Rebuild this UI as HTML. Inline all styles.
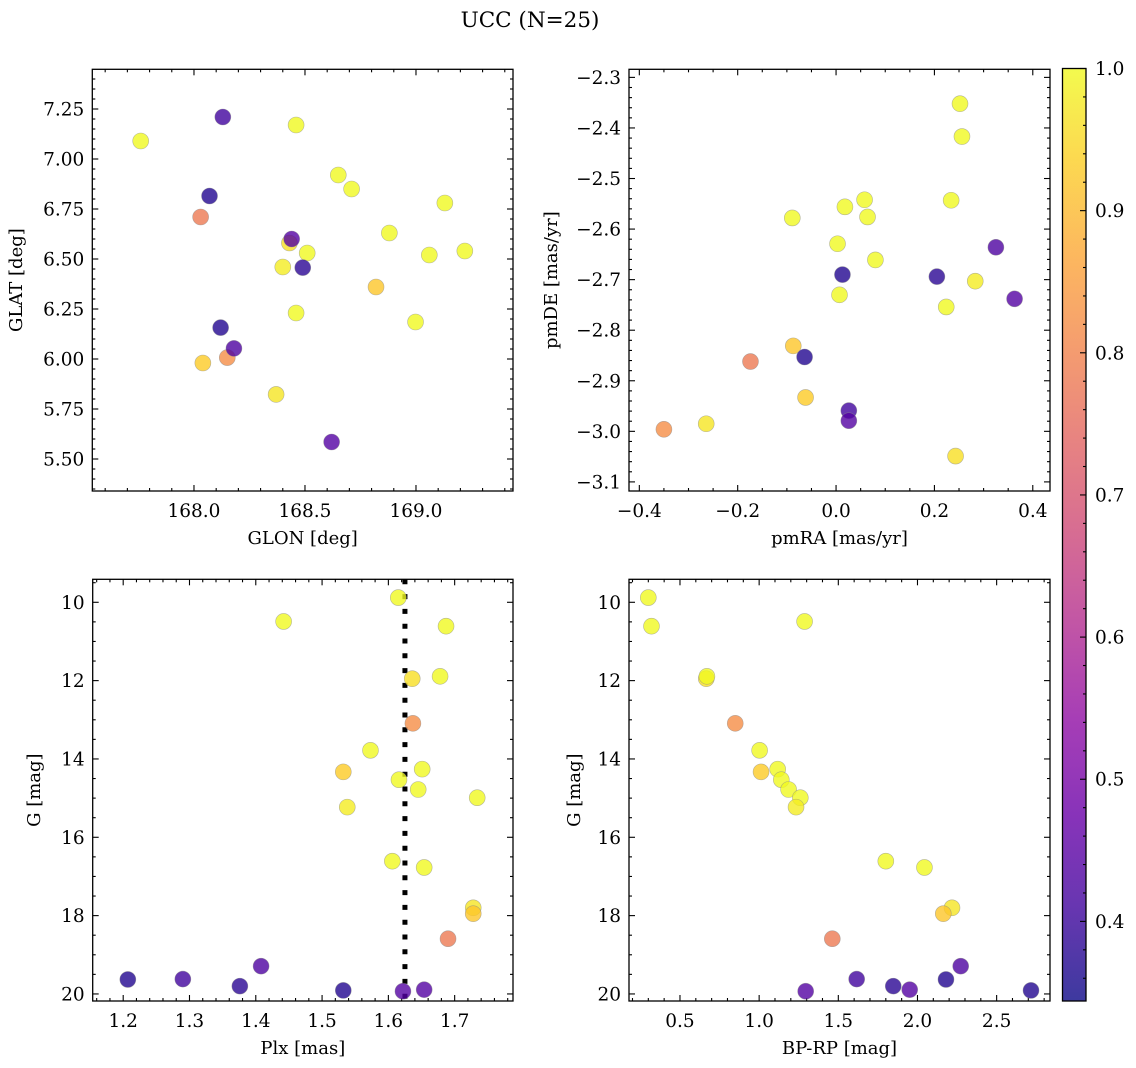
<!DOCTYPE html>
<html><head><meta charset="utf-8">
<style>
html,body{margin:0;padding:0;background:#fff;}
svg{display:block;font-family:"DejaVu Serif","Liberation Serif",serif;}
</style></head>
<body>
<svg id="fig" width="1136" height="1068" viewBox="0 0 1136 1068" xmlns="http://www.w3.org/2000/svg">
<text x="530" y="27" font-size="21.5" text-anchor="middle">UCC (N=25)</text>
</svg>
<script>
// ---- data (one entry per star) ----
const plx  = [1.615,1.442,1.687,1.636,1.678,1.637,1.573,1.532,1.651,1.616,1.645,1.734,1.538,1.606,1.654,1.728,1.728,1.690,1.207,1.290,1.376,1.408,1.532,1.622,1.654];
const gmag = [9.88,10.49,10.61,11.95,11.89,13.09,13.78,14.33,14.26,14.53,14.78,14.99,15.23,16.61,16.77,17.80,17.95,18.59,19.63,19.62,19.80,19.29,19.91,19.93,19.89];
const bprp = [0.30,1.287,0.32,0.666,0.67,0.849,1.003,1.012,1.117,1.140,1.186,1.26,1.233,1.80,2.044,2.218,2.163,1.462,2.18,1.616,1.847,2.273,2.717,1.294,1.951];
const prob = [1.0,1.0,1.0,0.96,1.0,0.82,1.0,0.93,1.0,1.0,1.0,1.0,0.98,1.0,1.0,0.97,0.92,0.78,0.37,0.41,0.38,0.43,0.37,0.44,0.44];
const glon = [167.76,168.46,168.65,168.43,168.71,168.15,169.13,168.04,168.51,168.88,169.06,169.22,168.40,168.46,168.998,168.37,168.82,168.03,168.07,168.13,168.49,168.18,168.12,168.44,168.62];
const glat = [7.09,7.17,6.92,6.58,6.85,6.007,6.78,5.98,6.53,6.63,6.52,6.54,6.46,6.23,6.185,5.823,6.36,6.71,6.815,7.21,6.457,6.053,6.157,6.60,5.585];
const pmra = [0.252,0.256,0.058,0.243,0.018,-0.350,-0.089,-0.062,0.064,0.234,0.003,0.080,0.283,0.007,0.224,-0.264,-0.087,-0.174,0.013,0.026,0.205,0.325,-0.064,0.363,0.026];
const pmde = [-2.352,-2.417,-2.542,-3.049,-2.556,-2.996,-2.578,-2.933,-2.576,-2.543,-2.629,-2.661,-2.703,-2.730,-2.754,-2.985,-2.831,-2.862,-2.690,-2.959,-2.694,-2.636,-2.853,-2.738,-2.979];
const plxMean = [1.625];
const cbTicks = [0.4,0.5,0.6,0.7,0.8,0.9,1.0];
const vmin = 0.344, vmax = 1.0;

const NS = "http://www.w3.org/2000/svg";
const svg = document.getElementById('fig');
function el(tag, attrs, parent){ const e=document.createElementNS(NS,tag); for(const k in attrs) e.setAttribute(k,attrs[k]); (parent||svg).appendChild(e); return e; }

const stops = [[0,[13,8,135]],[0.1,[65,4,157]],[0.2,[106,0,168]],[0.3,[143,13,164]],[0.4,[177,42,144]],[0.5,[204,71,120]],[0.6,[225,100,98]],[0.7,[242,132,75]],[0.8,[252,166,54]],[0.9,[252,206,37]],[1,[240,249,33]]];
function plasma(t){ t=Math.max(0,Math.min(1,t)); for(let i=1;i<stops.length;i++){ if(t<=stops[i][0]){ const a=stops[i-1],b=stops[i]; const f=(t-a[0])/(b[0]-a[0]); const c=a[1].map((v,j)=>Math.round(v+(b[1][j]-v)*f)); return `rgb(${c[0]},${c[1]},${c[2]})`; } } return 'rgb(240,249,33)'; }
function fmt(v,d){ const s=Math.abs(v).toFixed(d); return (v< -1e-9?'\u2212':'')+s; }

function panel(cfg){
  const {name,x0,x1,y0,y1,xmin,xmax,ymin,ymax,invertY,xt,yt,xminor,yminor,xd,yd,xlabel,ylabel,xs,ys,ylabX} = cfg;
  const sx = v => x0 + (v-xmin)/(xmax-xmin)*(x1-x0);
  const sy = invertY ? (v => y0 + (v-ymin)/(ymax-ymin)*(y1-y0)) : (v => y1 - (v-ymin)/(ymax-ymin)*(y1-y0));
  const g = el('g',{});
  
  
  const clipId = name+'-clip';
  const cp = el('clipPath',{id:clipId},g); el('rect',{x:x0,y:y0,width:x1-x0,height:y1-y0},cp);
  const tg = el('g',{stroke:'#000','stroke-width':1.1},g);
  const lo=Math.ceil(xmin/xminor-1e-6), hi=Math.floor(xmax/xminor+1e-6);
  for(let i=lo;i<=hi;i++){ const v=i*xminor; const X=sx(v); const major = xt.some(t=>Math.abs(t-v)<xminor/10); const L=major?6:3;
    el('line',{x1:X,y1:y1,x2:X,y2:y1-L},tg); el('line',{x1:X,y1:y0,x2:X,y2:y0+L},tg); }
  const ylo=Math.ceil(Math.min(ymin,ymax)/yminor-1e-6), yhi=Math.floor(Math.max(ymin,ymax)/yminor+1e-6);
  for(let i=ylo;i<=yhi;i++){ const v=i*yminor; const Y=sy(v); const major = yt.some(t=>Math.abs(t-v)<yminor/10); const L=major?6:3;
    el('line',{x1:x0,y1:Y,x2:x0+L,y2:Y},tg); el('line',{x1:x1,y1:Y,x2:x1-L,y2:Y},tg); }
  xt.forEach(v=>{ const t=el('text',{x:sx(v),y:y1+26,'font-size':18.5,'text-anchor':'middle'},g); t.textContent=fmt(v,xd);
      });
  yt.forEach(v=>{ const t=el('text',{x:x0-8,y:sy(v)+6.5,'font-size':18.5,'text-anchor':'end'},g); t.textContent=fmt(v,yd);
      });
  const xl=el('text',{x:(x0+x1)/2,y:y1+53,'font-size':18,'text-anchor':'middle'},g); xl.textContent=xlabel;
   
  const yc=(y0+y1)/2;
  const yl=el('text',{x:ylabX,y:yc,'font-size':18,'text-anchor':'middle',transform:`rotate(-90 ${ylabX} ${yc})`},g); yl.textContent=ylabel;
   
  const pg = el('g',{'clip-path':`url(#${clipId})`},g);
  if(cfg.vline){ cfg.vline.forEach(v=>{ const ln=el('line',{x1:sx(v),y1:y0,x2:sx(v),y2:y1,stroke:'#000','stroke-width':5,'stroke-dasharray':'5 9.8'},pg);
      }); }
  for(let i=0;i<xs.length;i++){
    const c=el('circle',{cx:sx(xs[i]),cy:sy(ys[i]),r:8,fill:plasma((prob[i]-vmin)/(vmax-vmin)),'fill-opacity':0.8,stroke:'#888','stroke-opacity':0.6,'stroke-width':0.6},pg);
    
    
  }
  el('rect',{x:x0,y:y0,width:x1-x0,height:y1-y0,fill:'none',stroke:'#000','stroke-width':1.3},g);
}

panel({name:'glon-glat-panel',x0:92.3,x1:513,y0:69.3,y1:491,xmin:167.542,xmax:169.437,ymin:5.34,ymax:7.4485,xt:[168.0,168.5,169.0],yt:[5.5,5.75,6.0,6.25,6.5,6.75,7.0,7.25],xminor:0.1,yminor:0.05,xd:1,yd:2,xlabel:'GLON [deg]',ylabel:'GLAT [deg]',xs:glon,ys:glat,ylabX:22});
panel({name:'pm-panel',x0:629,x1:1050,y0:69.3,y1:491,xmin:-0.421,xmax:0.435,ymin:-3.118,ymax:-2.284,xt:[-0.4,-0.2,0.0,0.2,0.4],yt:[-3.1,-3.0,-2.9,-2.8,-2.7,-2.6,-2.5,-2.4,-2.3],xminor:0.05,yminor:0.02,xd:1,yd:1,xlabel:'pmRA [mas/yr]',ylabel:'pmDE [mas/yr]',xs:pmra,ys:pmde,ylabX:557});
panel({name:'plx-g-panel',x0:92.7,x1:513,y0:579.3,y1:1001,xmin:1.154,xmax:1.788,ymin:9.413,ymax:20.18,invertY:true,xt:[1.2,1.3,1.4,1.5,1.6,1.7],yt:[10,12,14,16,18,20],xminor:0.02,yminor:0.5,xd:1,yd:0,xlabel:'Plx [mas]',ylabel:'G [mag]',xs:plx,ys:gmag,ylabX:40,vline:plxMean});
panel({name:'cmd-panel',x0:629,x1:1050,y0:579.3,y1:1001,xmin:0.178,xmax:2.837,ymin:9.413,ymax:20.18,invertY:true,xt:[0.5,1.0,1.5,2.0,2.5],yt:[10,12,14,16,18,20],xminor:0.1,yminor:0.5,xd:1,yd:0,xlabel:'BP-RP [mag]',ylabel:'G [mag]',xs:bprp,ys:gmag,ylabX:580});

(function(){
  const cx0=1062.5,cx1=1086,cy0=68.5,cy1=1001;
  const g=el('g',{});
  
  
  const defs=el('defs',{},g);
  const lg=el('linearGradient',{id:'cbgrad',x1:0,y1:1,x2:0,y2:0},defs);
  for(let i=0;i<=20;i++){ const t=i/20; el('stop',{offset:t,'stop-color':plasma(t),'stop-opacity':0.8},lg); }
  el('rect',{x:cx0,y:cy0,width:cx1-cx0,height:cy1-cy0,fill:'url(#cbgrad)'},g);
  const sy=v=>cy1-(v-vmin)/(vmax-vmin)*(cy1-cy0);
  for(let i=Math.ceil(vmin/0.02);i<=50;i++){ const v=i*0.02; const major=cbTicks.some(t=>Math.abs(t-v)<0.005); el('line',{x1:cx1,y1:sy(v),x2:cx1-(major?6:3),y2:sy(v),stroke:'#000','stroke-width':1.1},g); }
  cbTicks.forEach(v=>{ const t=el('text',{x:cx1+9,y:sy(v)+6.5,'font-size':18.5},g); t.textContent=v.toFixed(1);
      });
  el('rect',{x:cx0,y:cy0,width:cx1-cx0,height:cy1-cy0,fill:'none',stroke:'#000','stroke-width':1.3},g);
})();
</script>
</body></html>
